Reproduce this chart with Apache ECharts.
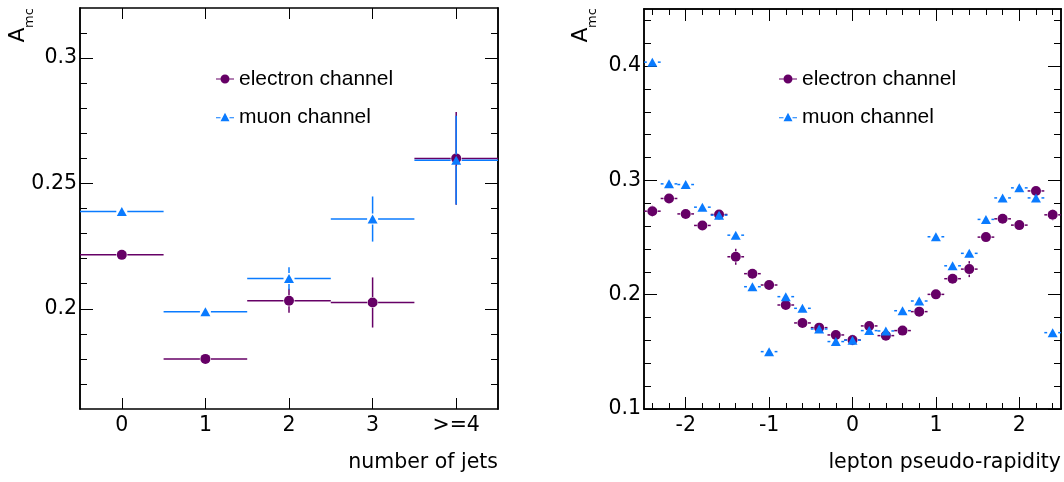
<!DOCTYPE html>
<html>
<head>
<meta charset="utf-8">
<script src="https://cdn.jsdelivr.net/npm/echarts@6/dist/echarts.min.js"></script>
<style>
  html, body { margin: 0; padding: 0; background: #fff; }
  #chart { width: 1064px; height: 482px; }
</style>
</head>
<body>
<div id="chart"></div>
<script>
// left panel: A_mc vs number of jets
const jetX = [0, 1, 2, 3, 4]
const jetLabels = ["0", "1", "2", "3", ">=4"]
const jetBinHalf = 0.5
const elecJet = [0.2215, 0.1800, 0.2032, 0.2025, 0.2600]
const elecJetErr = [0.0010, 0.0012, 0.0048, 0.0100, 0.0185]
const muonJet = [0.2388, 0.1988, 0.2121, 0.2358, 0.2593]
const muonJetErr = [0.0008, 0.0010, 0.0045, 0.0090, 0.0177]

// right panel: A_mc vs lepton pseudo-rapidity
const etaX = [-2.4, -2.2, -2.0, -1.8, -1.6, -1.4, -1.2, -1.0, -0.8, -0.6, -0.4, -0.2, 0.0,
  0.2, 0.4, 0.6, 0.8, 1.0, 1.2, 1.4, 1.6, 1.8, 2.0, 2.2, 2.4]
const etaBinHalf = 0.1
const elecEta = [0.2731, 0.2842, 0.2707, 0.2606, 0.2702, 0.2332, 0.2184, 0.2085, 0.1910, 0.1753,
  0.1712, 0.1648, 0.1604, 0.1727, 0.1642, 0.1686, 0.1852, 0.2003, 0.2140, 0.2224,
  0.2504, 0.2664, 0.2609, 0.2908, 0.2699]
const elecEtaErr = [0.005, 0.002, 0.002, 0.002, 0.002, 0.007, 0.002, 0.002, 0.002, 0.002,
  0.002, 0.002, 0.004, 0.002, 0.002, 0.002, 0.002, 0.002, 0.002, 0.007,
  0.002, 0.002, 0.002, 0.003, 0.005]
const muonEta = [0.4035, 0.2970, 0.2964, 0.2766, 0.2696, 0.2521, 0.2070, 0.1502, 0.1983, 0.1881,
  0.1700, 0.1590, 0.1602, 0.1686, 0.1683, 0.1860, 0.1945, 0.2507, 0.2253, 0.2362,
  0.2659, 0.2847, 0.2935, 0.2847, 0.1668]
const muonEtaErr = [0.002, 0.002, 0.002, 0.002, 0.002, 0.002, 0.002, 0.002, 0.002, 0.002,
  0.002, 0.002, 0.005, 0.002, 0.002, 0.002, 0.002, 0.002, 0.002, 0.002,
  0.002, 0.002, 0.002, 0.002, 0.002]

// tick positions
const yJetMajor = [0.2, 0.25, 0.3]
const yJetMinor = [0.17, 0.18, 0.19, 0.2, 0.21, 0.22, 0.23, 0.24, 0.25, 0.26, 0.27, 0.28, 0.29, 0.3, 0.31]
const etaMajor = [-2, -1, 0, 1, 2]
const etaMinor = [-2.4, -2.2, -2.0, -1.8, -1.6, -1.4, -1.2, -1.0, -0.8, -0.6, -0.4, -0.2, 0.0,
  0.2, 0.4, 0.6, 0.8, 1.0, 1.2, 1.4, 1.6, 1.8, 2.0, 2.2, 2.4]
const yEtaMajor = [0.1, 0.2, 0.3, 0.4]
const yEtaMinor = [0.12, 0.14, 0.16, 0.18, 0.2, 0.22, 0.24, 0.26, 0.28, 0.3, 0.32, 0.34, 0.36, 0.38, 0.4, 0.42, 0.44]

const ELEC = "#660066"
const MUON = "#0a7bff"
const TICK_FONT = "DejaVu Sans"
const LEG_FONT = "Liberation Sans"
const GAP = 5.5

function zip(xs, ys, es) {
  return xs.map((x, i) => [x, ys[i], es[i]])
}

// error bars drawn with a small gap around the marker
function errRender(halfW, color) {
  return function (params, api) {
    const x = api.value(0), y = api.value(1), e = api.value(2)
    const c = api.coord([x, y])
    const l = api.coord([x - halfW, y])
    const r = api.coord([x + halfW, y])
    const t = api.coord([x, y + e])
    const b = api.coord([x, y - e])
    const style = { stroke: color, lineWidth: 1.5 }
    const kids = []
    if (c[0] - l[0] > GAP) {
      kids.push({ type: "line", shape: { x1: l[0], y1: c[1], x2: c[0] - GAP, y2: c[1] }, style })
      kids.push({ type: "line", shape: { x1: c[0] + GAP, y1: c[1], x2: r[0], y2: c[1] }, style })
    }
    if (b[1] - c[1] > GAP) {
      kids.push({ type: "line", shape: { x1: c[0], y1: t[1], x2: c[0], y2: c[1] - GAP }, style })
      kids.push({ type: "line", shape: { x1: c[0], y1: c[1] + GAP, x2: c[0], y2: b[1] }, style })
    }
    return { type: "group", children: kids }
  }
}

function xAx(grid, pos, min, max, ticks, len, labels, formatter) {
  return {
    type: "value", gridIndex: grid, position: pos, min, max,
    splitLine: { show: false },
    axisLine: { show: true, onZero: false, lineStyle: { color: "#000", width: 1.5 } },
    axisTick: { show: true, inside: true, length: len, customValues: ticks, lineStyle: { color: "#000", width: 1 } },
    axisLabel: labels ? {
      show: true, customValues: ticks, margin: 6, formatter,
      fontFamily: TICK_FONT, fontSize: 20.5, color: "#000"
    } : { show: false }
  }
}

function yAx(grid, pos, min, max, ticks, len, labels) {
  return {
    type: "value", gridIndex: grid, position: pos, min, max,
    splitLine: { show: false },
    axisLine: { show: true, onZero: false, lineStyle: { color: "#000", width: 1.5 } },
    axisTick: { show: true, inside: true, length: len, customValues: ticks, lineStyle: { color: "#000", width: 1 } },
    axisLabel: labels ? {
      show: true, customValues: ticks, margin: 3,
      fontFamily: TICK_FONT, fontSize: 20.5, color: "#000"
    } : { show: false }
  }
}

const xAxes = [
  xAx(0, "bottom", -0.5, 4.5, jetX, 11, true, v => jetLabels[jetX.indexOf(Math.round(v))] || ""),
  xAx(0, "top", -0.5, 4.5, jetX, 11, false),
  xAx(1, "bottom", -2.5, 2.5, etaMajor, 12, true, v => String(v)),
  xAx(1, "bottom", -2.5, 2.5, etaMinor, 6, false),
  xAx(1, "top", -2.5, 2.5, etaMajor, 12, false),
  xAx(1, "top", -2.5, 2.5, etaMinor, 6, false)
]
xAxes[0].name = "number of jets"
xAxes[2].name = "lepton pseudo-rapidity"
;[0, 2].forEach(i => {
  Object.assign(xAxes[i], {
    nameLocation: "end", nameGap: 0, nameMoveOverlap: false,
    nameTextStyle: {
      fontFamily: TICK_FONT, fontSize: 20.5, color: "#000",
      align: "right", verticalAlign: "top", padding: [43, 0, 0, 0]
    }
  })
})

const yAxes = [
  yAx(0, "left", 0.16, 0.32, yJetMajor, 13, true),
  yAx(0, "left", 0.16, 0.32, yJetMinor, 7, false),
  yAx(0, "right", 0.16, 0.32, yJetMajor, 13, false),
  yAx(0, "right", 0.16, 0.32, yJetMinor, 7, false),
  yAx(1, "left", 0.1, 0.45, yEtaMajor, 13, true),
  yAx(1, "left", 0.1, 0.45, yEtaMinor, 7, false),
  yAx(1, "right", 0.1, 0.45, yEtaMajor, 13, false),
  yAx(1, "right", 0.1, 0.45, yEtaMinor, 7, false)
]

const circIcon = "path://M0,4.5H4.5V5.5H0Z M13.5,4.5H18V5.5H13.5Z M9,0.5A4.5,4.5 0 1 1 9,9.5A4.5,4.5 0 1 1 9,0.5Z"
const triIcon = "path://M0,5.5H4.5V6.5H0Z M13.5,5.5H18V6.5H13.5Z M9,1L13.5,9.5L4.5,9.5Z"

function legendAt(left) {
  return {
    left, top: 62, orient: "vertical", itemWidth: 18, itemHeight: 10, itemGap: 14,
    selectedMode: false,
    textStyle: { fontFamily: LEG_FONT, fontSize: 21, color: "#000", lineHeight: 24 },
    data: [{ name: "electron channel", icon: circIcon }, { name: "muon channel", icon: triIcon }]
  }
}

function amc(cx) {
  const base = { fontFamily: TICK_FONT, fill: "#000", textAlign: "center", textVerticalAlign: "middle", align: "center", verticalAlign: "middle" }
  return [
    { type: "text", x: cx, y: 35, rotation: Math.PI / 2, style: Object.assign({ text: "A", fontSize: 22 }, base) },
    { type: "text", x: cx + 11.5, y: 18, rotation: Math.PI / 2, style: Object.assign({ text: "mc", fontSize: 13 }, base) }
  ]
}

function panelSeries(xi, yi, xs, e, ee, m, me, halfW) {
  return [
    { type: "custom", name: "electron err", xAxisIndex: xi, yAxisIndex: yi, renderItem: errRender(halfW, ELEC), data: zip(xs, e, ee), z: 2, silent: true },
    { type: "scatter", name: "electron channel", xAxisIndex: xi, yAxisIndex: yi, symbol: "circle", symbolSize: 10,
      itemStyle: { color: ELEC, opacity: 1 }, data: xs.map((x, i) => [x, e[i]]), z: 3, silent: true },
    { type: "custom", name: "muon err", xAxisIndex: xi, yAxisIndex: yi, renderItem: errRender(halfW, MUON), data: zip(xs, m, me), z: 4, silent: true },
    { type: "scatter", name: "muon channel", xAxisIndex: xi, yAxisIndex: yi, symbol: "triangle", symbolSize: [10, 9],
      itemStyle: { color: MUON, opacity: 1 }, data: xs.map((x, i) => [x, m[i]]), z: 5, silent: true }
  ]
}

const option = {
  animation: false,
  backgroundColor: "#fff",
  grid: [
    { left: 80, top: 8, width: 418, height: 401, containLabel: false, outerBoundsMode: "none" },
    { left: 644, top: 9, width: 417, height: 400, containLabel: false, outerBoundsMode: "none" }
  ],
  xAxis: xAxes,
  yAxis: yAxes,
  legend: [legendAt(211), legendAt(774)],
  graphic: amc(18.5).concat(amc(581)),
  series: panelSeries(0, 0, jetX, elecJet, elecJetErr, muonJet, muonJetErr, jetBinHalf)
    .concat(panelSeries(2, 4, etaX, elecEta, elecEtaErr, muonEta, muonEtaErr, etaBinHalf))
}

const chart = echarts.init(document.getElementById("chart"))
chart.setOption(option)
</script>
</body>
</html>
